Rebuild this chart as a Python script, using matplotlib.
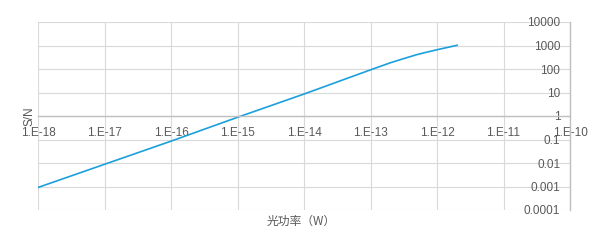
import matplotlib
matplotlib.use('Agg')
import matplotlib.pyplot as plt

# Data
power_w = [1e-18, 1e-17, 1e-16, 1e-15, 1e-14, 1e-13, 2e-13, 3e-13, 5e-13,
           7e-13, 1e-12, 1.5e-12, 2e-12]
snr = [0.00091, 0.0088, 0.085, 0.88, 8.6, 92, 185, 265, 410,
       520, 660, 850, 1020]

x_ticks = [1e-18, 1e-17, 1e-16, 1e-15, 1e-14, 1e-13, 1e-12, 1e-11, 1e-10]
x_tick_labels = ['1.E-18', '1.E-17', '1.E-16', '1.E-15', '1.E-14',
                 '1.E-13', '1.E-12', '1.E-11', '1.E-10']
y_ticks = [1e-4, 1e-3, 1e-2, 1e-1, 1, 10, 100, 1000, 10000]
y_tick_labels = ['0.0001', '0.001', '0.01', '0.1', '1', '10', '100', '1000', '10000']

TEXT_COLOR = '#595959'
GRID_COLOR = '#D9D9D9'
AXIS_COLOR = '#BFBFBF'
LINE_COLOR = '#1AA0DC'
TICK_FONT = ['Liberation Sans Narrow', 'Liberation Sans', 'DejaVu Sans']

fig = plt.figure(figsize=(6.11, 2.41), dpi=100)
ax = fig.add_axes([38 / 611, 1 - 210 / 241, 532 / 611, 188 / 241])

ax.plot(power_w, snr, color=LINE_COLOR, linewidth=1.2)

ax.set_xscale('log')
ax.set_yscale('log')
ax.set_xlim(1e-18, 1e-10)
ax.set_ylim(1e-4, 1e4)

ax.set_xticks(x_ticks)
ax.set_xticklabels(x_tick_labels)
ax.set_yticks(y_ticks)
ax.set_yticklabels(y_tick_labels)
ax.minorticks_off()

ax.grid(True, color=GRID_COLOR, linewidth=0.8)
ax.set_axisbelow(True)

# x axis crosses at y = 1, y axis sits on the right edge
ax.spines['bottom'].set_position(('data', 1))
ax.spines['bottom'].set_color(AXIS_COLOR)
ax.spines['bottom'].set_linewidth(1.0)
ax.spines['right'].set_color(AXIS_COLOR)
ax.spines['right'].set_linewidth(1.0)
ax.spines['top'].set_visible(False)
ax.spines['left'].set_visible(False)

ax.tick_params(axis='x', length=0, pad=8, labelsize=8.5, labelcolor=TEXT_COLOR)
ax.tick_params(axis='y', length=0, pad=-7, labelsize=8.5, labelcolor=TEXT_COLOR,
               left=False, labelleft=False, right=False, labelright=True)
for lbl in ax.get_yticklabels():
    lbl.set_horizontalalignment('right')
    lbl.set_family(TICK_FONT)
for lbl in ax.get_xticklabels():
    lbl.set_family(TICK_FONT)

ax.set_ylabel('S/N', color=TEXT_COLOR, fontsize=8.5, family=TICK_FONT)
ax.yaxis.set_label_position('left')
ax.yaxis.set_label_coords(-0.004, 0.5)

ax.set_xlabel('光功率（W）', color=TEXT_COLOR, fontsize=8.5,
              family=['Noto Sans CJK SC', 'DejaVu Sans'])
ax.xaxis.set_label_coords(0.494, -0.025)

fig.savefig('out.png', dpi=100)
